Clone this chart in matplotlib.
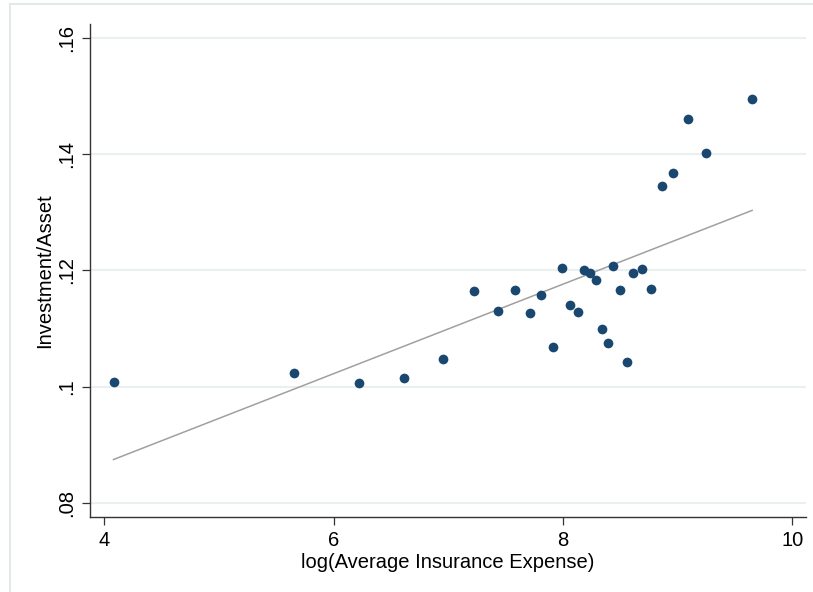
import numpy as np
import matplotlib
matplotlib.use("Agg")
import matplotlib.pyplot as plt
from matplotlib.lines import Line2D

# log(average insurance expense) vs investment/asset, one dot per group
log_ins = [4.08, 5.65, 6.22, 6.61, 6.95, 7.22, 7.43, 7.58, 7.71, 7.81,
           7.91, 7.99, 8.06, 8.13, 8.18, 8.24, 8.29, 8.34, 8.39, 8.44,
           8.50, 8.56, 8.61, 8.69, 8.77, 8.86, 8.96, 9.09, 9.25, 9.65]
inv_asset = [0.1009, 0.1023, 0.1007, 0.1015, 0.1047, 0.1165, 0.1130, 0.1167, 0.1127, 0.1157,
             0.1069, 0.1204, 0.1141, 0.1129, 0.1200, 0.1195, 0.1183, 0.1099, 0.1076, 0.1208,
             0.1167, 0.1043, 0.1195, 0.1202, 0.1168, 0.1345, 0.1368, 0.1460, 0.1401, 0.1494]

# fitted line as shown in the figure
fit_intercept = 0.05615
fit_slope = 0.007684

x_ticks = [4, 6, 8, 10]
y_ticks = [0.08, 0.10, 0.12, 0.14, 0.16]
y_ticklabels = [".08", ".1", ".12", ".14", ".16"]

plt.rcParams["font.family"] = ["Liberation Sans", "DejaVu Sans"]

fig = plt.figure(figsize=(8.13, 5.92), dpi=100)
ax = fig.add_axes([90 / 813, 1 - 517 / 592, (806 - 90) / 813, (517 - 24) / 592])

# light border of the graph region (Stata style)
frame_c = "#e4e8ea"
fig.add_artist(Line2D([10 / 813, 10 / 813], [0, 1 - 4 / 592], transform=fig.transFigure,
                      color=frame_c, lw=1.5))
fig.add_artist(Line2D([10 / 813, 1], [1 - 4 / 592, 1 - 4 / 592], transform=fig.transFigure,
                      color=frame_c, lw=1.5))

x = np.array(log_ins)
y = np.array(inv_asset)
xs = np.array([x.min(), x.max()])

for yt in y_ticks:
    ax.axhline(yt, color="#eaf0f2", lw=1.5, zorder=0)

ax.plot(x, y, "o", color="#1a476f", markersize=7, markeredgewidth=0, zorder=3)
ax.plot(xs, fit_intercept + fit_slope * xs, color="#a0a0a0", lw=1.1, zorder=2)

ax.set_xlim(3.875, 10.12)
ax.set_ylim(0.07763, 0.16232)
ax.set_xticks(x_ticks)
ax.set_xticklabels([str(t) for t in x_ticks])
ax.set_yticks(y_ticks)
ax.set_yticklabels(y_ticklabels, rotation=90, va="center")

for side in ["top", "right"]:
    ax.spines[side].set_visible(False)
for side in ["left", "bottom"]:
    ax.spines[side].set_color("#333333")
    ax.spines[side].set_linewidth(1.0)

ax.tick_params(axis="both", direction="out", length=6, width=0.9, color="#333333",
               labelsize=14.5, pad=4)
ax.set_xlabel("log(Average Insurance Expense)", fontsize=14.5, labelpad=2)
ax.set_ylabel("Investment/Asset", fontsize=14.5, labelpad=2)

fig.savefig("out.png", dpi=100, facecolor="white")
